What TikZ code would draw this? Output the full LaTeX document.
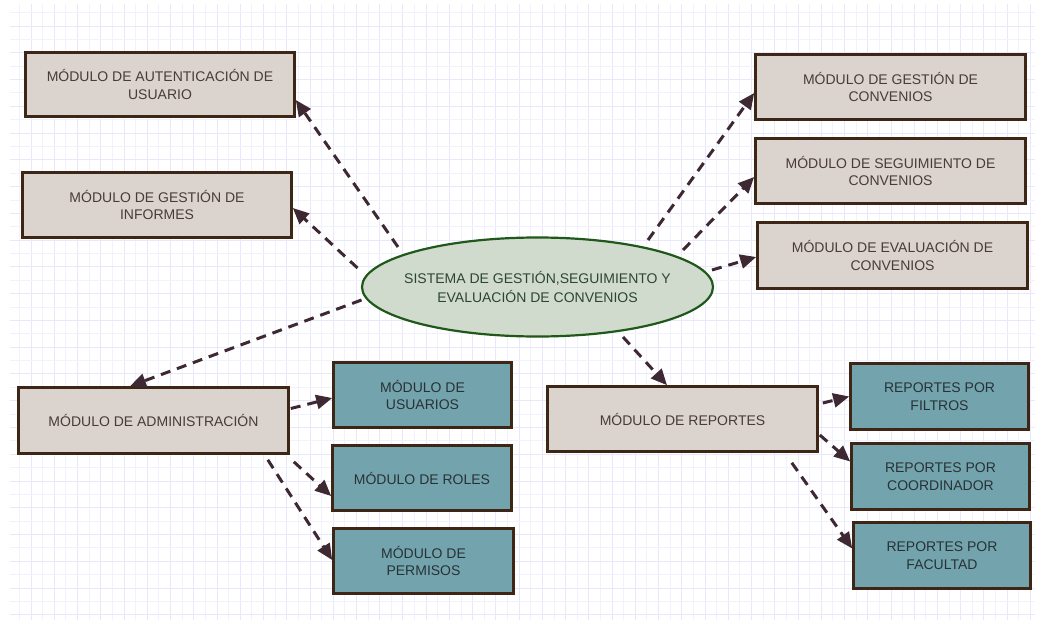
\documentclass[tikz,border=0pt]{standalone}
\usepackage{fontspec}
\setmainfont{Liberation Sans}
\usetikzlibrary{arrows.meta,shapes.geometric}
\definecolor{gridc}{RGB}{242,241,254}
\definecolor{gridd}{RGB}{233,231,252}
\definecolor{beige}{RGB}{219,211,205}
\definecolor{tealf}{RGB}{115,164,174}
\definecolor{bord}{RGB}{62,38,22}
\definecolor{txtb}{RGB}{72,60,55}
\definecolor{txtt}{RGB}{40,50,54}
\definecolor{ellf}{RGB}{208,219,206}
\definecolor{elld}{RGB}{32,88,26}
\definecolor{ellt}{RGB}{45,70,47}
\definecolor{arrc}{RGB}{62,40,50}
\begin{document}
\begin{tikzpicture}[x=1pt,y=-1pt,
  box/.style={draw=bord, line width=2.6pt, inner sep=0pt, align=center,
    font=\fontsize{14}{17.5}\selectfont},
  mod/.style={box, fill=beige, text=txtb},
  sub/.style={box, fill=tealf, text=txtt},
  conn/.style={draw=arrc, line width=3pt, dash pattern=on 10pt off 7pt,
    -{Triangle[length=16pt,width=14pt]}},
  gridline/.style={draw=gridc, line width=1pt},
  gridmajor/.style={draw=gridd, line width=1pt}
]
\useasboundingbox (0,0) rectangle (1040,623);
\fill[white] (0,0) rectangle (1040,623);
% grid
\foreach \i in {0,2,...,86}
  \draw[gridline] (19.5+\i*11.62,4) -- (19.5+\i*11.62,620);
\foreach \i in {1,3,...,87}
  \draw[gridmajor] (19.5+\i*11.62,4) -- (19.5+\i*11.62,620);
\foreach \j in {0,2,...,44}
  \draw[gridline] (10,12.7+\j*13.38) -- (1035,12.7+\j*13.38);
\foreach \j in {1,3,...,45}
  \draw[gridmajor] (10,12.7+\j*13.38) -- (1035,12.7+\j*13.38);

% central ellipse
\node[ellipse, draw=elld, line width=2.2pt, fill=ellf, minimum width=351pt,
  minimum height=99pt, inner xsep=-12pt, inner ysep=0pt, align=center, text=ellt,
  font=\fontsize{14}{19}\selectfont] (sys) at (537.5,287)
  {SISTEMA DE GESTIÓN,SEGUIMIENTO Y\\EVALUACIÓN DE CONVENIOS};

% modules
\node[mod, minimum width=269pt, minimum height=64pt] (aut) at (160,84.5) {MÓDULO DE AUTENTICACIÓN DE\\USUARIO};
\node[mod, minimum width=269pt, minimum height=65pt] (inf) at (157,205) {MÓDULO DE GESTIÓN DE\\INFORMES};
\node[mod, minimum width=270pt, minimum height=65pt] (gconv) at (890.5,87) {MÓDULO DE GESTIÓN DE\\CONVENIOS};
\node[mod, minimum width=270pt, minimum height=65pt] (seg) at (890.5,171) {MÓDULO DE SEGUIMIENTO DE\\CONVENIOS};
\node[mod, minimum width=270pt, minimum height=66pt] (eval) at (892.5,255.5) {MÓDULO DE EVALUACIÓN DE\\CONVENIOS};
\node[mod, minimum width=270pt, minimum height=66pt] (adm) at (153.5,420.5) {MÓDULO DE ADMINISTRACIÓN};
\node[mod, minimum width=270pt, minimum height=65pt] (rep) at (682.5,419) {MÓDULO DE REPORTES};

% sub modules
\node[sub, minimum width=178pt, minimum height=65pt] (usu) at (422.5,395) {MÓDULO DE\\USUARIOS};
\node[sub, minimum width=179pt, minimum height=65pt] (rol) at (422,478) {MÓDULO DE ROLES};
\node[sub, minimum width=180pt, minimum height=65pt] (per) at (423.5,561) {MÓDULO DE\\PERMISOS};
\node[sub, minimum width=178pt, minimum height=66pt] (fil) at (939.5,396.5) {REPORTES POR\\FILTROS};
\node[sub, minimum width=178pt, minimum height=66pt] (coo) at (940.5,476.5) {REPORTES POR\\COORDINADOR};
\node[sub, minimum width=177pt, minimum height=66pt] (fac) at (942,555.5) {REPORTES POR\\FACULTAD};

% connectors
\draw[conn] ([shift={(-139.5,-40)}]sys.center) -- ([shift={(0,15.5)}]aut.east);
\draw[conn] ([shift={(-180,-19)}]sys.center) -- ([shift={(0,3)}]inf.east);
\draw[conn] ([shift={(-176,13)}]sys.center) -- ([shift={(-23.5,0)}]adm.north);
\draw[conn] ([shift={(110.5,-47)}]sys.center) -- ([shift={(0,6)}]gconv.west);
\draw[conn] ([shift={(145.5,-37)}]sys.center) -- ([shift={(0,6)}]seg.west);
\draw[conn] ([shift={(174.5,-17)}]sys.center) -- ([shift={(0,1.5)}]eval.west);
\draw[conn] ([shift={(85.5,50)}]sys.center) -- ([shift={(-15.5,0)}]rep.north);
\draw[conn] ([shift={(1,-12)}]adm.east) -- ([shift={(0,3)}]usu.west);
\draw[conn] ([shift={(4,7)}]adm.south east) -- ([shift={(0,18)}]rol.west);
\draw[conn] ([shift={(-22,5)}]adm.south east) -- ([shift={(0,-1)}]per.west);
\draw[conn] ([shift={(4,-16)}]rep.east) -- (fil.west);
\draw[conn] ([shift={(1,16)}]rep.east) -- ([shift={(0,-15)}]coo.west);
\draw[conn] ([shift={(-27,10)}]rep.south east) -- ([shift={(0,-7)}]fac.west);
\end{tikzpicture}
\end{document}
